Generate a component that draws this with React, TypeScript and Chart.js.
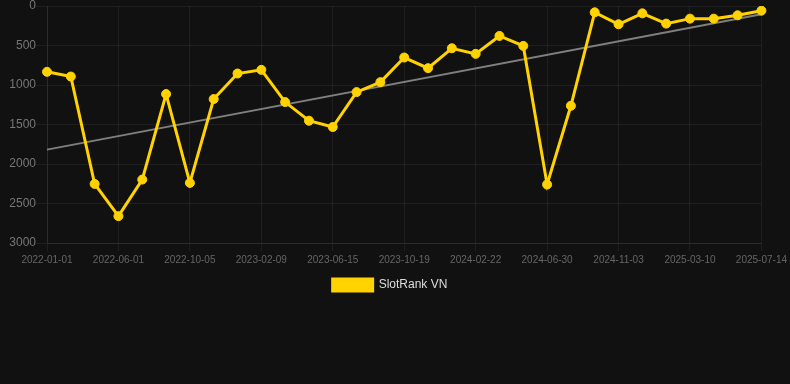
import React, { useEffect, useRef } from "react";
import { Chart, registerables } from "chart.js";

Chart.register(...registerables);

const dates = [
  "2022-01-01", "2022-02-20", "2022-04-11", "2022-06-01", "2022-07-13", "2022-08-24",
  "2022-10-05", "2022-11-16", "2022-12-28", "2023-02-09", "2023-03-23", "2023-05-04",
  "2023-06-15", "2023-07-27", "2023-09-07", "2023-10-19", "2023-11-30", "2024-01-11",
  "2024-02-22", "2024-04-04", "2024-05-17", "2024-06-30", "2024-08-11", "2024-09-22",
  "2024-11-03", "2024-12-15", "2025-01-26", "2025-03-10", "2025-04-21", "2025-06-02",
  "2025-07-14",
];

const rankValues = [
  833, 893, 2252, 2660, 2197, 1115, 2239, 1178, 855, 808, 1216, 1452, 1532, 1090, 964,
  652, 787, 535, 606, 379, 505, 2260, 1263, 80, 231, 93, 223, 160, 160, 118, 59,
];

const trendStart = 1818;
const trendEnd = 105;
const trendValues: (number | null)[] = dates.map((_, i) =>
  i === 0 ? trendStart : i === dates.length - 1 ? trendEnd : null
);

const yTicks = [0, 500, 1000, 1500, 2000, 2500, 3000];

export default function App() {
  const ref = useRef<HTMLCanvasElement | null>(null);

  useEffect(() => {
    document.body.style.margin = "0";
    document.body.style.background = "#111111";
    if (!ref.current) return;
    const chart = new Chart(ref.current, {
      type: "line",
      data: {
        labels: dates,
        datasets: [
          {
            label: "SlotRank VN",
            data: rankValues,
            borderColor: "#FFD200",
            backgroundColor: "#FFD200",
            borderWidth: 3,
            pointRadius: 4.5,
            pointBorderWidth: 1,
            pointHoverRadius: 4.5,
            pointBackgroundColor: "#FFD200",
            pointBorderColor: "#FFD200",
            tension: 0,
          },
          {
            label: "trend",
            data: trendValues,
            borderColor: "rgba(140,140,140,0.9)",
            backgroundColor: "rgba(140,140,140,0.9)",
            borderWidth: 2,
            pointRadius: 0,
            spanGaps: true,
            tension: 0,
          },
        ],
      },
      options: {
        animation: false,
        responsive: true,
        maintainAspectRatio: false,
        layout: { padding: { left: 0, right: 10, top: 0, bottom: 0 } },
        plugins: {
          tooltip: { enabled: false },
          legend: {
            position: "bottom",
            labels: {
              color: "#dddddd",
              font: { family: "'Liberation Sans', Arial, sans-serif", size: 12 },
              boxWidth: 40,
              filter: (item) => item.text === "SlotRank VN",
            },
          },
        },
        scales: {
          x: {
            grid: {
              color: (ctx) => (ctx.index % 3 === 0 ? "rgba(255,255,255,0.06)" : "rgba(0,0,0,0)"),
              tickLength: 8,
            },
            border: { color: "rgba(255,255,255,0.06)" },
            ticks: {
              autoSkip: false,
              maxRotation: 0,
              color: "#666666",
              font: { family: "'Liberation Sans', Arial, sans-serif", size: 10 },
              callback: (_v, i) => (i % 3 === 0 ? dates[i] : ""),
            },
          },
          y: {
            reverse: true,
            min: 0,
            max: 3000,
            afterBuildTicks: (axis) => {
              axis.ticks = yTicks.map((v) => ({ value: v }));
            },
            afterFit: (axis) => {
              axis.width = 47;
            },
            grid: { color: "rgba(255,255,255,0.06)", tickLength: 11 },
            border: { color: "rgba(255,255,255,0.06)" },
            ticks: {
              padding: 0,
              color: "#777777",
              font: { family: "'Liberation Sans', Arial, sans-serif", size: 12, lineHeight: 1 },
              callback: (v) => String(v),
            },
          },
        },
      },
    });
    return () => chart.destroy();
  }, []);

  return (
    <div style={{ width: 790, height: 384, background: "#111111" }}>
      <div style={{ position: "relative", width: 790, height: 301 }}>
        <canvas ref={ref} />
      </div>
    </div>
  );
}
